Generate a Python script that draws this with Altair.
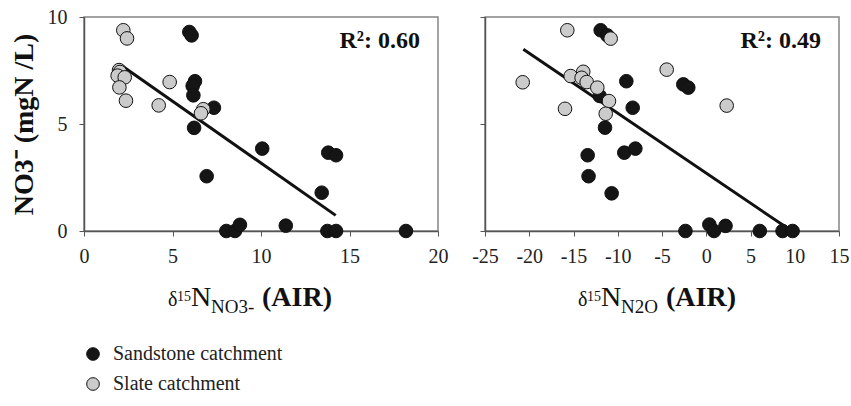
import altair as alt
import pandas as pd

SERIF = "Liberation Serif"
CAT_S = "Sandstone catchment"
CAT_L = "Slate catchment"

# ---- left panel: d15N-NO3 vs NO3 ----
left_sand_x = [5.95, 6.08, 6.27, 6.14, 6.18, 7.34, 6.22, 10.07, 6.93, 13.8, 14.24, 13.43,
               8.04, 8.53, 8.81, 11.4, 13.75, 14.24, 18.19]
left_sand_y = [9.30, 9.14, 7.00, 6.78, 6.34, 5.76, 4.82, 3.85, 2.56, 3.66, 3.54, 1.79,
               0.0, 0.0, 0.29, 0.25, 0.0, 0.0, 0.0]
left_slate_x = [2.22, 2.43, 1.98, 2.03, 1.90, 2.30, 2.00, 2.37, 4.84, 4.22, 6.74, 6.61]
left_slate_y = [9.38, 9.00, 7.52, 7.43, 7.26, 7.18, 6.71, 6.09, 6.96, 5.87, 5.69, 5.50]
left_fit_x = [2.22, 14.22]
left_fit_y = [7.68, 0.73]
left_r2 = "R²: 0.60"

# ---- right panel: d15N-N2O vs NO3 ----
right_sand_x = [-11.93, -11.18, -9.03, -2.59, -2.03, -12.04, -8.31, -11.44, -9.26, -8.01,
                -10.69, -13.4, -13.3, -2.35, 0.35, 0.88, 2.18, 6.05, 8.62, 9.76]
right_sand_y = [9.38, 9.14, 7.00, 6.85, 6.70, 6.31, 5.76, 4.83, 3.66, 3.85,
                1.76, 3.54, 2.56, 0.0, 0.30, 0.0, 0.24, 0.0, 0.0, 0.0]
right_slate_x = [-15.7, -10.8, -20.74, -15.32, -13.9, -14.08, -13.51, -12.31, -10.99,
                 -11.36, -15.96, -4.47, 2.31]
right_slate_y = [9.38, 8.99, 6.95, 7.24, 7.44, 7.16, 6.96, 6.70, 6.07, 5.48, 5.71, 7.54, 5.86]
right_fit_x = [-20.67, 9.54]
right_fit_y = [8.49, 0.03]
right_r2 = "R²: 0.49"

left_ticks = [0, 5, 10, 15, 20]
right_ticks = [-25, -20, -15, -10, -5, 0, 5, 10, 15]
y_ticks = [0, 5, 10]

W, H = 354, 214

fill_scale = alt.Scale(domain=[CAT_S, CAT_L], range=["#151515", "#cbcbcb"])


def pts(sx, sy, lx, ly):
    rows = [{"x": a, "y": b, "cat": CAT_S} for a, b in zip(sx, sy)]
    rows += [{"x": a, "y": b, "cat": CAT_L} for a, b in zip(lx, ly)]
    return pd.DataFrame(rows)


def one():
    return pd.DataFrame({"k": [0]})


def xtitle(start, sub, sub_w):
    base = 289
    parts = [
        ("δ", 20, "normal", start, base),
        ("15", 14, "normal", start + 9, base - 5),
        ("N", 28, "normal", start + 23, base),
        (sub, 19, "normal", start + 43, base + 7),
        ("(AIR)", 28, "bold", start + 43 + sub_w + 7, base),
    ]
    layers = []
    for t, fs, fw, px, py in parts:
        layers.append(
            alt.Chart(one()).mark_text(text=t, font=SERIF, fontSize=fs, fontWeight=fw,
                                      align="left", baseline="alphabetic", color="#111")
            .encode(x=alt.value(px), y=alt.value(py))
        )
    return layers


def panel(df, fit_x, fit_y, xdomain, xticks, left, r2, title_layers):
    xenc = alt.X("x:Q", scale=alt.Scale(domain=xdomain, nice=False, zero=False),
                 axis=alt.Axis(values=xticks, title=None, labelExpr="'' + datum.value"))
    if left:
        yaxis = alt.Axis(values=y_ticks, title="NO3⁻ (mgN /L)", titleFont=SERIF,
                         titleFontSize=28, titleFontWeight="bold", titleAngle=270,
                         titleX=-52, titleY=H / 2, titleAlign="center",
                         titleBaseline="alphabetic", titleColor="#111")
    else:
        yaxis = alt.Axis(values=y_ticks, title=None, labels=False)
    yenc = alt.Y("y:Q", scale=alt.Scale(domain=[0, 10], nice=False), axis=yaxis)

    points = alt.Chart(df).mark_circle(size=185, stroke="#111", strokeWidth=1, opacity=1).encode(
        x=xenc, y=yenc,
        fill=alt.Fill("cat:N", scale=fill_scale,
                      legend=alt.Legend(title=None, orient="none", legendX=-1, legendY=327,
                                        direction="vertical", labelFont=SERIF, labelFontSize=20,
                                        labelColor="#222", symbolType="circle", symbolSize=160,
                                        symbolStrokeColor="#111", symbolStrokeWidth=1,
                                        rowPadding=10, labelOffset=10, padding=0,
                                        labelLimit=400)),
    )
    fit = alt.Chart(pd.DataFrame({"x": fit_x, "y": fit_y})).mark_line(
        color="#111", strokeWidth=3).encode(x="x:Q", y="y:Q")
    r2t = alt.Chart(one()).mark_text(text=r2, font=SERIF, fontSize=24, fontWeight="bold",
                                     align="right", baseline="alphabetic", color="#111").encode(
        x=alt.value(336), y=alt.value(31))
    return alt.layer(fit, points, r2t, *title_layers).properties(width=W, height=H)


left = panel(pts(left_sand_x, left_sand_y, left_slate_x, left_slate_y), left_fit_x, left_fit_y,
             [0, 20], left_ticks, True, left_r2, xtitle(84, "NO3-", 44))
right = panel(pts(right_sand_x, right_sand_y, right_slate_x, right_slate_y), right_fit_x, right_fit_y,
              [-25, 15], right_ticks, False, right_r2, xtitle(93, "N2O", 38))

chart = alt.hconcat(left, right, spacing=47, bounds="flush").resolve_scale(
    fill="shared", x="independent").properties(
    padding={"left": 9, "top": 6, "right": 0, "bottom": 0}, background="white"
).configure_view(stroke="#858585", strokeWidth=1.5).configure_axis(
    grid=False, domainColor="#555", domainWidth=1.5, tickColor="#555", tickSize=5,
    labelFont=SERIF, labelFontSize=20, labelColor="#222",
    labelFlush=False, labelOverlap=False
).configure_axisX(labelPadding=10).configure_axisY(labelPadding=12)

chart.save("out.html", embed_options={"renderer": "svg", "actions": False})
